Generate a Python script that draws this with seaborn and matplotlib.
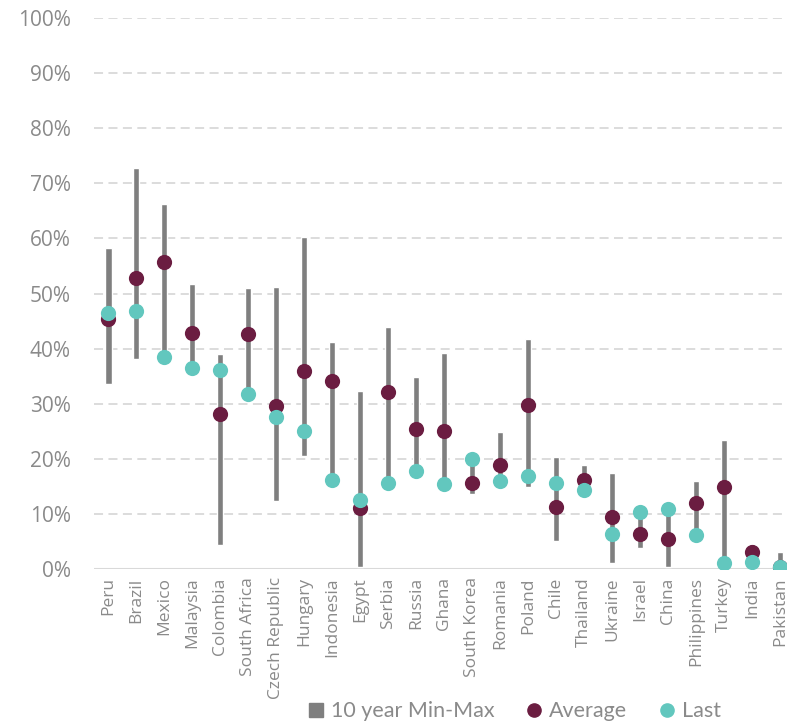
import matplotlib
matplotlib.use("Agg")
import matplotlib.pyplot as plt
from matplotlib.lines import Line2D
from matplotlib.ticker import PercentFormatter
import seaborn as sns
import pandas as pd

countries = ["Peru", "Brazil", "Mexico", "Malaysia", "Colombia", "South Africa",
             "Czech Republic", "Hungary", "Indonesia", "Egypt", "Serbia", "Russia",
             "Ghana", "South Korea", "Romania", "Poland", "Chile", "Thailand",
             "Ukraine", "Israel", "China", "Philippines", "Turkey", "India", "Pakistan"]
# values in % of total
min_10y = [33.5, 38.1, 38.4, 36.4, 4.4, 31.7, 12.4, 20.6, 16.2, 0.3, 15.6, 17.7,
           15.4, 13.6, 15.9, 14.9, 5.0, 14.3, 1.1, 3.8, 0.3, 6.2, 1.0, 1.3, 0.3]
max_10y = [58.2, 72.8, 66.2, 51.8, 39.1, 51.0, 51.2, 60.2, 41.2, 32.4, 44.0, 34.8,
           39.2, 20.0, 24.8, 41.8, 20.3, 18.9, 17.5, 10.3, 10.9, 16.0, 23.4, 4.5, 3.0]
average = [45.3, 52.8, 55.7, 42.9, 28.1, 42.6, 29.5, 36.0, 34.2, 11.1, 32.1, 25.5,
           25.1, 15.6, 18.8, 29.8, 11.3, 16.2, 9.4, 6.3, 5.4, 11.9, 14.8, 3.0, 0.4]
last = [46.5, 46.8, 38.4, 36.4, 36.1, 31.7, 27.5, 25.1, 16.2, 12.5, 15.6, 17.7,
        15.4, 20.0, 15.9, 16.8, 15.7, 14.3, 6.3, 10.3, 10.9, 6.2, 1.0, 1.3, 0.3]

df = pd.DataFrame({"country": countries, "min": min_10y, "max": max_10y,
                   "avg": average, "last": last})

GRAY = "#7f7f7f"
MAROON = "#6b1d41"
TEAL = "#62c7be"
TXT = "#8a8a8a"

sns.set_style("white")
plt.rcParams["font.family"] = ["Open Sans", "DejaVu Sans"]

fig = plt.figure(figsize=(7.87, 7.23), dpi=100)
ax = fig.add_axes([0.12, 0.213, 0.889, 0.762])

ax.bar(df["country"], df["max"] - df["min"], bottom=df["min"], width=0.22,
       color=GRAY, zorder=2)
sns.scatterplot(data=df, x="country", y="avg", color=MAROON, s=120,
                linewidth=0, ax=ax, zorder=3)
sns.scatterplot(data=df, x="country", y="last", color=TEAL, s=120,
                linewidth=0, ax=ax, zorder=4)

ax.set_xlim(-0.5, len(countries) - 0.5)
ax.set_ylim(0, 100)
ax.set_yticks(range(0, 101, 10))
ax.yaxis.set_major_formatter(PercentFormatter(decimals=0))
ax.yaxis.grid(True, color="#d9d9d9", linestyle=(0, (5, 3)), linewidth=1.3, zorder=0)
ax.set_axisbelow(True)
ax.axhline(0, color="#d9d9d9", linewidth=1.5, zorder=1)
for s in ax.spines.values():
    s.set_visible(False)
ax.set_xlabel("")
ax.set_ylabel("")
ax.tick_params(axis="y", length=0, pad=17, labelsize=15, labelcolor=TXT)
ax.tick_params(axis="x", length=0, pad=6, labelsize=12.5, labelcolor=TXT,
               labelrotation=90)

handles = [
    Line2D([], [], marker="s", linestyle="none", color=GRAY, markersize=10),
    Line2D([], [], marker="o", linestyle="none", color=MAROON, markersize=9.5),
    Line2D([], [], marker="o", linestyle="none", color=TEAL, markersize=9.5),
]
fig.legend(handles, ["10 year Min-Max", "Average", "Last"], loc="center",
           bbox_to_anchor=(0.654, 0.016), ncol=3, frameon=False,
           handlelength=0.7, handletextpad=0.35, columnspacing=1.5,
           prop={"family": ["Lato", "DejaVu Sans"], "size": 15.5}, labelcolor=TXT)

fig.savefig("out.png", dpi=100)
